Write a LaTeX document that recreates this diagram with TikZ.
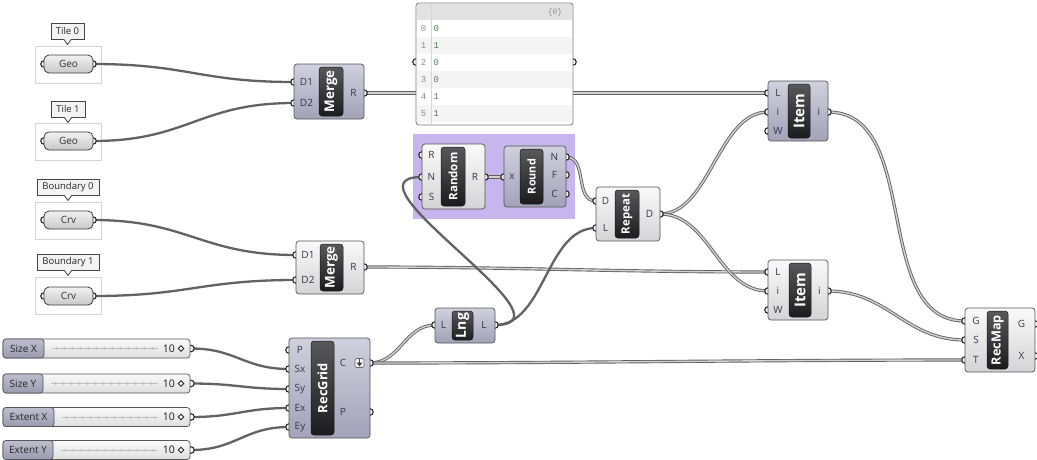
\documentclass[tikz,border=0pt]{standalone}
\usepackage{fontspec}
\setmainfont{Open Sans}
\newfontfamily\monofont{Liberation Mono}
\usepackage{graphicx}
\usetikzlibrary{fit}

\definecolor{lineC}{RGB}{85,85,90}
\definecolor{lightTop}{RGB}{250,250,250}
\definecolor{lightBot}{RGB}{212,212,214}
\definecolor{darkTop}{RGB}{208,208,222}
\definecolor{darkBot}{RGB}{162,162,184}
\definecolor{barTop}{RGB}{88,88,90}
\definecolor{barBot}{RGB}{28,28,30}
\definecolor{labelC}{RGB}{55,55,75}
\definecolor{wireC}{RGB}{98,98,98}
\definecolor{wireIn}{RGB}{210,210,210}
\definecolor{grpPurple}{RGB}{199,181,238}
\definecolor{frameC}{RGB}{212,212,212}
\definecolor{callLine}{RGB}{70,70,70}
\definecolor{callFill}{RGB}{243,243,243}
\definecolor{pillLine}{RGB}{60,60,60}
\definecolor{pillTop}{RGB}{242,242,242}
\definecolor{pillBot}{RGB}{200,200,200}
\definecolor{sliderBot}{RGB}{222,222,222}
\definecolor{tabTop}{RGB}{190,190,206}
\definecolor{tabBot}{RGB}{155,155,176}
\definecolor{trackC}{RGB}{190,190,190}
\definecolor{panelLine}{RGB}{120,120,120}
\definecolor{panelHead}{RGB}{226,226,226}
\definecolor{stripeC}{RGB}{244,244,244}
\definecolor{dividerC}{RGB}{205,220,205}
\definecolor{indexC}{RGB}{140,140,140}
\definecolor{valueC}{RGB}{85,125,85}

\pgfdeclarelayer{grp}
\pgfdeclarelayer{wires}
\pgfsetlayers{grp,wires,main}

\tikzset{
  ghlight/.style={rectangle, draw=lineC, line width=0.7pt, rounded corners=3pt, top color=lightTop, bottom color=lightBot, inner sep=0pt},
  ghdark/.style={rectangle, draw=lineC, line width=0.7pt, rounded corners=3pt, top color=darkTop, bottom color=darkBot, inner sep=0pt},
  ghbar/.style={rectangle, draw=black!90, line width=0.5pt, rounded corners=3pt, top color=barTop, bottom color=barBot, inner sep=0pt},
  bartext/.style={rotate=90, text=white, font=\bfseries, inner sep=0pt},
  plabel/.style={text=labelC, font=\fontsize{10}{11}\selectfont, inner sep=0pt},
  ghport/.style={circle, draw=black!85, line width=1.1pt, fill=white, minimum size=6.5pt, inner sep=0pt},
  itemwire/.style={draw=wireC, line width=2.3pt},
  listwire/.style={draw=wireC, line width=0.9pt, double=wireIn, double distance=1.4pt},
  grpframe/.style={rectangle, draw=frameC, line width=0.8pt, fill=white, inner sep=0pt},
  purplegrp/.style={rectangle, fill=grpPurple, inner sep=0pt},
  callbox/.style={rectangle, draw=callLine, line width=0.8pt, fill=callFill, minimum height=16pt, inner xsep=3pt, inner ysep=0pt, outer sep=0pt, text=black!85, font=\fontsize{9.5}{10}\selectfont},
  callpointer/.style={draw=callLine, line width=0.8pt, fill=callFill, line join=miter},
  pill/.style={rectangle, rounded corners=5pt, draw=pillLine, line width=0.8pt, top color=pillTop, bottom color=pillBot, inner sep=0pt, text=black!80, font=\fontsize{10}{11}\selectfont},
  sliderbody/.style={rectangle, rounded corners=3pt, draw=lineC, line width=0.7pt, top color=lightTop, bottom color=sliderBot, inner sep=0pt},
  slidertab/.style={rectangle, rounded corners=3pt, draw=lineC, line width=0.7pt, top color=tabTop, bottom color=tabBot, inner sep=0pt},
  sliderlabel/.style={text=black!85, font=\fontsize{10}{11}\selectfont, inner sep=0pt},
  slidervalue/.style={anchor=east, text=black!90, font=\fontsize{10.5}{11}\selectfont, inner sep=0pt},
  knob/.style={rectangle, rotate=45, draw=black!85, line width=0.9pt, fill=white, minimum size=3.8pt, inner sep=0pt},
  track/.style={draw=trackC, line width=0.6pt},
  panelbox/.style={rectangle, rounded corners=3pt, draw=panelLine, line width=0.8pt, fill=white, inner sep=0pt},
  idxtext/.style={text=indexC, font=\monofont\fontsize{9}{10}\selectfont, inner sep=0pt},
  valtext/.style={anchor=west, text=valueC, font=\monofont\fontsize{9}{10}\selectfont, inner sep=0pt},
  hdrtext/.style={text=indexC, font=\monofont\fontsize{8}{9}\selectfont, inner sep=0pt},
  iconbox/.style={rectangle, rounded corners=1.5pt, draw=black!60, line width=0.6pt, fill=white!92!gray, minimum size=9pt, inner sep=0pt},
}

% component body, name bar and rotated title
\newcommand{\ghcomp}[9]{%
  \node[#2, fit={(#3,#4) (#5,#6)}] (#1) {};
  \node[ghbar, fit={(#7,#4+3) (#8,#6-3)}] (#1-bar) {};
  \node[bartext] (#1-name) at (#1-bar.center) {#9};
}
\newcommand{\grip}[3]{\node[ghport] (#1) at (#2,#3) {};}
\newcommand{\plab}[4]{\node[plabel] (#1) at (#2,#3) {#4};}
\newcommand{\wire}[4]{\draw[#1] (#2.center) .. controls +(#4,0) and +(-#4,0) .. (#3.center);}

% number slider: name, centre y, tab right edge, caption
\newcommand{\slider}[4]{%
  \grip{#1-out}{191}{#2}
  \node[sliderbody, fit={(3,#2-9.5) (190,#2+9.5)}] (#1) {};
  \node[slidertab, fit={(3,#2-9.5) (#3,#2+9.5)}] (#1-tab) {};
  \node[sliderlabel] (#1-label) at (#1-tab.center) {#4};
  \draw[track] (#3+8,#2) -- (158,#2);
  \foreach \k in {0,...,14}{%
    \pgfmathsetmacro\tx{#3+12+8*\k}%
    \ifdim\tx pt<156pt \draw[track] (\tx,#2-1.5) -- (\tx,#2+1.5);\fi}
  \node[slidervalue] (#1-value) at (175,#2) {10};
  \node[knob] (#1-knob) at (181,#2) {};
}

% callout tag: name, centre x, centre y, width, text
\newcommand{\callout}[5]{%
  \node[callbox, minimum width=#4] (#1) at (#2,#3) {#5};
  \filldraw[callpointer] ([xshift=-4pt]#1.south) -- ([yshift=-5.5pt]#1.south) -- ([xshift=4pt]#1.south);
  \fill[callFill] ([xshift=-3.3pt,yshift=0.6pt]#1.south) rectangle ([xshift=3.3pt,yshift=-0.3pt]#1.south);
}

% geometry / curve parameter pill
\newcommand{\param}[3]{%
  \grip{#1-in}{44}{#2}
  \grip{#1-out}{93}{#2}
  \node[pill, minimum width=49pt, minimum height=18pt] (#1) at (68.5,#2) {#3};
}

\begin{document}
\begin{tikzpicture}[x=1pt,y=-1pt]
\useasboundingbox (0,0) rectangle (1037,459);

\begin{pgfonlayer}{grp}
  \fill[white] (0,0) rectangle (1037,459);
  \node[grpframe, fit={(35,46) (101,83)}] (frame-t0) {};
  \node[grpframe, fit={(35,123) (101,160)}] (frame-t1) {};
  \node[grpframe, fit={(35,202) (101,239)}] (frame-b0) {};
  \node[grpframe, fit={(35,277) (101,314)}] (frame-b1) {};
  \node[purplegrp, fit={(413,134) (575,219)}] (grp-rand) {};
\end{pgfonlayer}

% tags and parameters
\callout{tag-t0}{67.5}{31}{33pt}{Tile 0}
\callout{tag-t1}{68}{109}{34pt}{Tile 1}
\callout{tag-b0}{68}{187}{62pt}{Boundary 0}
\callout{tag-b1}{68}{262}{62pt}{Boundary 1}
\param{geo0}{64}{Geo}
\param{geo1}{141}{Geo}
\param{crv0}{220}{Crv}
\param{crv1}{296}{Crv}

% sliders
\slider{sx}{348.5}{44}{Size X}
\slider{sy}{383.5}{43}{Size Y}
\slider{ex}{417}{54}{Extent X}
\slider{ey}{450}{53}{Extent Y}

% panel
\grip{panel-in}{416}{62}
\grip{panel-out}{573}{62}
\node[panelbox, fit={(416,3) (573,125)}] (panel) {};
\fill[panelHead] (417,4) rectangle (572,20);
\foreach \k in {1,3,5} \fill[stripeC] (417,20+17*\k) rectangle (572,37+17*\k);
\draw[dividerC, line width=0.6pt] (431,4) -- (431,124);
\node[hdrtext] (panel-path) at (555,12) {\{0\}};
\foreach \k/\v in {0/0,1/1,2/0,3/0,4/1,5/1}{
  \node[idxtext] (panel-i\k) at (423.5,28.5+17*\k) {\k};
  \node[valtext] (panel-v\k) at (433.5,28.5+17*\k) {\v};
}

% Merge (tiles)
\grip{m1-d1}{294}{82}\grip{m1-d2}{294}{103}\grip{m1-r}{364}{93}
\ghcomp{m1}{ghdark}{294}{64}{364}{119}{319}{343}{\resizebox{42pt}{!}{Merge}}
\plab{m1-ld1}{306.5}{82}{D1}\plab{m1-ld2}{306.5}{103}{D2}\plab{m1-lr}{353.5}{93}{R}

% Merge (boundaries)
\grip{m2-d1}{296}{255}\grip{m2-d2}{296}{280}\grip{m2-r}{364}{267}
\ghcomp{m2}{ghlight}{296}{241}{364}{294}{320}{343}{\resizebox{42pt}{!}{Merge}}
\plab{m2-ld1}{308}{255}{D1}\plab{m2-ld2}{308}{280}{D2}\plab{m2-lr}{353.5}{267}{R}

% Random
\grip{rnd-rin}{422}{155}\grip{rnd-n}{422}{177}\grip{rnd-s}{422}{197}\grip{rnd-r}{485}{177}
\ghcomp{rnd}{ghlight}{422}{144}{485}{209}{441}{465}{\resizebox{48pt}{!}{Random}}
\plab{rnd-lr}{431.5}{155}{R}\plab{rnd-ln}{431.5}{177}{N}\plab{rnd-ls}{431.5}{197}{S}\plab{rnd-lo}{475}{177}{R}

% Round
\grip{rou-x}{504}{177}\grip{rou-n}{566}{157}\grip{rou-f}{566}{175}\grip{rou-c}{566}{194}
\ghcomp{rou}{ghdark}{504}{146}{566}{207}{520}{543}{\resizebox{35pt}{!}{Round}}
\plab{rou-lx}{512}{177}{x}\plab{rou-ln}{554.5}{157}{N}\plab{rou-lf}{554.5}{175}{F}\plab{rou-lc}{554.5}{194}{C}

% Repeat
\grip{rep-d}{596}{201}\grip{rep-l}{596}{228}\grip{rep-out}{660}{214}
\ghcomp{rep}{ghlight}{596}{187}{660}{241}{615}{639}{\resizebox{40pt}{!}{Repeat}}
\plab{rep-ld}{605.5}{201}{D}\plab{rep-ll}{605.5}{228}{L}\plab{rep-lo}{649.5}{214}{D}

% List Item (tiles)
\grip{it1-l}{768}{93}\grip{it1-i}{768}{112}\grip{it1-w}{768}{131}\grip{it1-out}{828}{112}
\ghcomp{it1}{ghdark}{768}{81}{828}{141}{788}{810}{\resizebox{35pt}{!}{Item}}
\plab{it1-ll}{778}{93}{L}\plab{it1-li}{778}{112}{i}\plab{it1-lw}{778}{131}{W}\plab{it1-lo}{819}{112}{i}

% List Item (boundaries)
\grip{it2-l}{768}{272}\grip{it2-i}{768}{291}\grip{it2-w}{768}{310}\grip{it2-out}{828}{291}
\ghcomp{it2}{ghlight}{768}{260}{828}{320}{789}{811}{\resizebox{35pt}{!}{Item}}
\plab{it2-ll}{778}{272}{L}\plab{it2-li}{778}{291}{i}\plab{it2-lw}{778}{310}{W}\plab{it2-lo}{819.5}{291}{i}

% List Length
\grip{lng-in}{435}{325}\grip{lng-out}{495}{325}
\ghcomp{lng}{ghdark}{435}{308}{495}{343}{452}{473}{\resizebox{25pt}{!}{Lng}}
\plab{lng-li}{443.5}{325}{L}\plab{lng-lo}{484}{325}{L}

% Rectangular Grid
\grip{rg-p}{289}{350}\grip{rg-sx}{289}{369}\grip{rg-sy}{289}{389}\grip{rg-ex}{289}{408}\grip{rg-ey}{289}{427}
\grip{rg-c}{370}{363}\grip{rg-pt}{370}{412}
\ghcomp{rg}{ghdark}{289}{338}{370}{438}{311}{334}{\resizebox{50pt}{!}{RecGrid}}
\plab{rg-lp}{300}{350}{P}\plab{rg-lsx}{300}{369}{Sx}\plab{rg-lsy}{300}{389}{Sy}\plab{rg-lex}{300}{408}{Ex}\plab{rg-ley}{300}{427}{Ey}
\plab{rg-lc}{343}{363}{C}\plab{rg-lpt}{343}{412}{P}
\node[iconbox] (rg-icon) at (359.5,363) {};
\draw[black!75, line width=1.3pt] (359.5,359) -- (359.5,363.5);
\fill[black!75] (356.6,362.6) -- (362.4,362.6) -- (359.5,366.4) -- cycle;

% RecMap
\grip{rm-g}{965}{321}\grip{rm-s}{965}{340}\grip{rm-t}{965}{360}\grip{rm-gout}{1035}{324}\grip{rm-x}{1035}{356}
\ghcomp{rm}{ghlight}{965}{308}{1035}{372}{987}{1008}{\resizebox{50pt}{!}{RecMap}}
\plab{rm-lg}{976}{321}{G}\plab{rm-ls}{976}{340}{S}\plab{rm-lt}{976}{360}{T}\plab{rm-lgo}{1021.5}{324}{G}\plab{rm-lx}{1021.5}{356}{X}

% connections
\begin{pgfonlayer}{wires}
  \wire{itemwire}{geo0-out}{m1-d1}{95}
  \wire{itemwire}{geo1-out}{m1-d2}{95}
  \wire{itemwire}{crv0-out}{m2-d1}{95}
  \wire{itemwire}{crv1-out}{m2-d2}{95}
  \wire{listwire}{m1-r}{it1-l}{150}
  \wire{listwire}{m2-r}{it2-l}{150}
  \wire{listwire}{rnd-r}{rou-x}{8}
  \wire{listwire}{rou-n}{rep-d}{22}
  \wire{itemwire}{lng-out}{rnd-n}{88}
  \wire{itemwire}{lng-out}{rep-l}{50}
  \wire{listwire}{rg-c}{lng-in}{30}
  \wire{listwire}{rg-c}{rm-t}{200}
  \wire{listwire}{rep-out}{it1-i}{50}
  \wire{listwire}{rep-out}{it2-i}{50}
  \wire{listwire}{it1-out}{rm-g}{95}
  \wire{listwire}{it2-out}{rm-s}{60}
  \wire{itemwire}{sx-out}{rg-sx}{45}
  \wire{itemwire}{sy-out}{rg-sy}{45}
  \wire{itemwire}{ex-out}{rg-ex}{45}
  \wire{itemwire}{ey-out}{rg-ey}{45}
\end{pgfonlayer}
\end{tikzpicture}
\end{document}
